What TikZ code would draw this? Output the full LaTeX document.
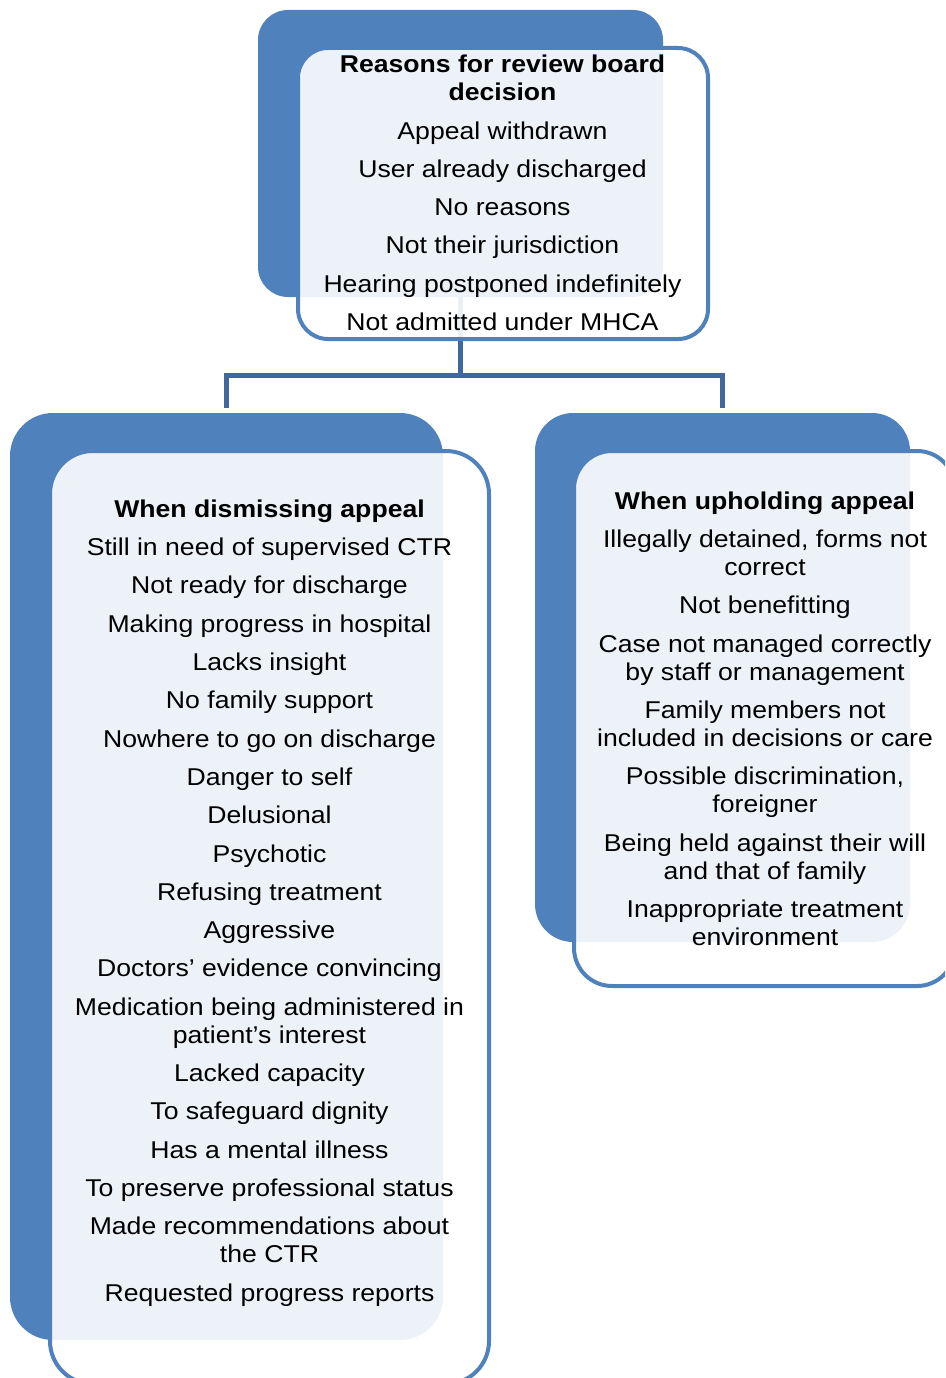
\documentclass[tikz,border=0pt]{standalone}
\usepackage{fontspec}
\setmainfont{Liberation Sans}[FakeStretch=1.095]
\definecolor{accent}{RGB}{79,129,189}
\definecolor{connblue}{RGB}{64,104,158}
\begin{document}
\begin{tikzpicture}[x=1pt,y=-1pt,
  backbox/.style={fill=accent, draw=none, inner sep=0pt, outer sep=0pt},
  framebox/.style={draw=accent, line width=4pt, fill=white, fill opacity=0.9, inner sep=0pt, outer sep=0pt},
  connector/.style={draw=connblue, line width=4.7pt, shorten >=5pt},
  txt/.style={font=\fontsize{24.3}{28}\selectfont, align=center, inner sep=0pt, outer sep=0pt, anchor=north, text=black}]
\useasboundingbox (0,0) rectangle (945,1378);
\clip (0,0) rectangle (945,1378);
% back (accent) boxes
\node[backbox, rounded corners=30pt, minimum width=405pt, minimum height=287pt] (topblue) at (460.5,153.5) {};
\node[backbox, rounded corners=43pt, minimum width=433pt, minimum height=927pt] (leftblue) at (226.5,876.5) {};
\node[backbox, rounded corners=38pt, minimum width=375pt, minimum height=529pt] (rightblue) at (722.5,677.5) {};
% connectors
\coordinate (jn) at (460.5,375.5);
\draw[connector] (topblue.south) -- (topblue.south |- jn) -| (leftblue.north);
\draw[connector] (topblue.south |- jn) -| (rightblue.north);
% frames
\node[framebox, rounded corners=30pt, minimum width=410pt, minimum height=291pt] (topframe) at (503,193.5) {};
\node[framebox, rounded corners=43pt, minimum width=439pt, minimum height=933pt] (leftframe) at (269.5,917.5) {};
\node[framebox, rounded corners=38pt, minimum width=381pt, minimum height=535pt] (rightframe) at (764.5,718.5) {};
% texts
\node[txt] (toptext) at (502.5,53.1) {\strut\textbf{Reasons for review board}\\
\textbf{decision}\\[10.3pt]
Appeal withdrawn\\[10.3pt]
User already discharged\\[10.3pt]
No reasons\\[10.3pt]
Not their jurisdiction\\[10.3pt]
Hearing postponed indefinitely\\[10.3pt]
Not admitted under MHCA};
\node[txt] (lefttext) at (269.5,497.7) {\strut\textbf{When dismissing appeal}\\[10.3pt]
Still in need of supervised CTR\\[10.3pt]
Not ready for discharge\\[10.3pt]
Making progress in hospital\\[10.3pt]
Lacks insight\\[10.3pt]
No family support\\[10.3pt]
Nowhere to go on discharge\\[10.3pt]
Danger to self\\[10.3pt]
Delusional\\[10.3pt]
Psychotic\\[10.3pt]
Refusing treatment\\[10.3pt]
Aggressive\\[10.3pt]
Doctors’ evidence convincing\\[10.3pt]
Medication being administered in\\
patient’s interest\\[10.3pt]
Lacked capacity\\[10.3pt]
To safeguard dignity\\[10.3pt]
Has a mental illness\\[10.3pt]
To preserve professional status\\[10.3pt]
Made recommendations about\\
the CTR\\[10.3pt]
Requested progress reports};
\node[txt] (righttext) at (765,489.7) {\strut\textbf{When upholding appeal}\\[10.3pt]
Illegally detained, forms not\\
correct\\[10.3pt]
Not benefitting\\[10.3pt]
Case not managed correctly\\
by staff or management\\[10.3pt]
Family members not\\
included in decisions or care\\[10.3pt]
Possible discrimination,\\
foreigner\\[10.3pt]
Being held against their will\\
and that of family\\[10.3pt]
Inappropriate treatment\\
environment};
\end{tikzpicture}
\end{document}
